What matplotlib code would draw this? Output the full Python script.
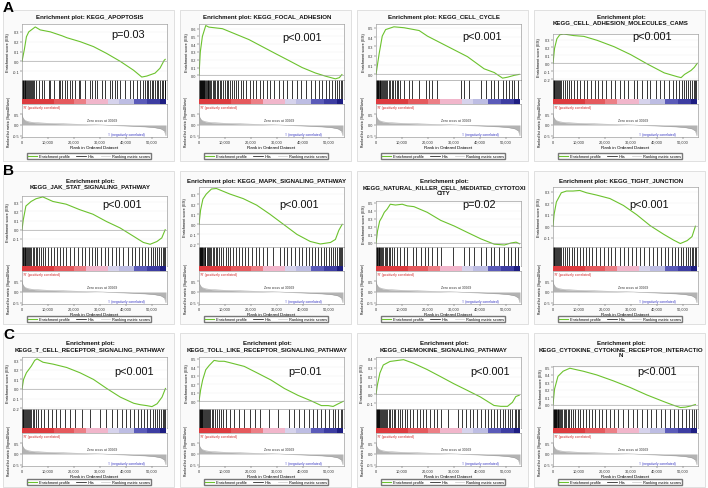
import matplotlib
matplotlib.use('Agg')
import matplotlib.pyplot as plt
from matplotlib.patches import Rectangle
from matplotlib.lines import Line2D

plt.rcParams['font.family'] = ['Liberation Sans', 'DejaVu Sans']

W, H = 708, 489
fig = plt.figure(figsize=(W / 100, H / 100), dpi=100)

# ---------------- data ----------------
titles = [
    "Enrichment plot: KEGG_APOPTOSIS",
    "Enrichment plot: KEGG_FOCAL_ADHESION",
    "Enrichment plot: KEGG_CELL_CYCLE",
    "Enrichment plot:\nKEGG_CELL_ADHESION_MOLECULES_CAMS",
    "Enrichment plot:\nKEGG_JAK_STAT_SIGNALING_PATHWAY",
    "Enrichment plot: KEGG_MAPK_SIGNALING_PATHWAY",
    "Enrichment plot:\nKEGG_NATURAL_KILLER_CELL_MEDIATED_CYTOTOXI\nCITY",
    "Enrichment plot: KEGG_TIGHT_JUNCTION",
    "Enrichment plot:\nKEGG_T_CELL_RECEPTOR_SIGNALING_PATHWAY",
    "Enrichment plot:\nKEGG_TOLL_LIKE_RECEPTOR_SIGNALING_PATHWAY",
    "Enrichment plot:\nKEGG_CHEMOKINE_SIGNALING_PATHWAY",
    "Enrichment plot:\nKEGG_CYTOKINE_CYTOKINE_RECEPTOR_INTERACTIO\nN",
]
pvals = ["p=0.03", "p<0.001", "p<0.001", "p<0.001",
         "p<0.001", "p<0.001", "p=0.02", "p<0.001",
         "p<0.001", "p=0.01", "p<0.001", "p<0.001"]
row_letters = ["A", "B", "C"]

# running enrichment score: ranks (thousands) and ES values
es_rank_k = [
    [0, 0.9, 1.7, 2.6, 5.1, 7.0, 10.9, 15.4, 17.3, 22.4, 27.5, 32.6, 37.8, 42.9, 46.1, 48.0, 51.2, 53.1, 54.7, 55.1],
    [0, 0.5, 1.3, 2.6, 3.8, 9.0, 14.1, 19.2, 24.3, 29.4, 34.6, 39.7, 44.8, 48.6, 52.5, 54.0, 55.0],
    [0, 1.2, 2.4, 3.7, 6.9, 10.8, 16.6, 19.8, 27.5, 35.2, 41.6, 45.5, 48.7, 50.6, 53.2, 55.1],
    [0, 0.6, 1.5, 2.6, 4.1, 8.0, 11.9, 17.0, 23.5, 29.9, 36.4, 42.8, 48.0, 49.3, 50.6, 53.1, 54.4, 55.5],
    [0, 0.5, 1.5, 3.5, 5.4, 8.0, 11.9, 17.0, 22.2, 27.3, 32.5, 37.7, 42.8, 46.7, 49.3, 51.9, 53.8, 55.1],
    [0, 0.6, 1.5, 2.8, 4.8, 6.7, 11.9, 17.0, 22.2, 27.3, 32.5, 37.7, 42.8, 46.7, 50.6, 52.5, 53.8, 55.1],
    [0, 0.6, 1.4, 2.3, 3.2, 4.3, 5.5, 7.5, 10.1, 12.0, 14.6, 19.7, 24.9, 30.1, 35.2, 40.4, 45.5, 49.4, 52.0, 53.9, 55.2],
    [0, 0.4, 1.3, 3.2, 5.2, 7.7, 10.3, 12.9, 16.8, 21.9, 27.1, 32.2, 37.4, 42.6, 46.4, 49.0, 51.6, 53.5, 54.8],
    [0, 0.6, 1.7, 3.6, 4.9, 5.8, 8.1, 12.0, 17.2, 22.3, 27.5, 32.6, 37.8, 43.0, 45.5, 48.1, 50.0, 52.0, 53.9, 55.2],
    [0, 0.6, 1.4, 2.6, 3.9, 5.8, 7.7, 9.7, 12.3, 17.4, 22.6, 27.7, 32.9, 38.1, 43.2, 47.1, 49.7, 51.6, 53.5, 55.5],
    [0, 0.5, 1.5, 2.8, 5.4, 10.6, 14.4, 19.6, 24.8, 29.9, 35.1, 40.2, 45.4, 48.0, 50.6, 52.5, 53.8, 55.1],
    [0, 0.6, 1.9, 3.9, 6.5, 9.0, 11.6, 16.8, 23.2, 29.7, 36.1, 42.6, 46.4, 49.0, 51.0, 52.9, 54.8],
]
es_vals = [
    [0, 0.12, 0.25, 0.30, 0.35, 0.32, 0.30, 0.26, 0.24, 0.20, 0.15, 0.08, 0.0, -0.09, -0.16, -0.15, -0.12, -0.07, 0.01, 0.02],
    [0, 0.30, 0.50, 0.64, 0.62, 0.60, 0.53, 0.46, 0.37, 0.28, 0.19, 0.10, 0.03, -0.01, -0.045, -0.03, 0.01],
    [0, 0.22, 0.41, 0.48, 0.51, 0.50, 0.47, 0.41, 0.30, 0.19, 0.06, 0.02, -0.04, -0.03, -0.01, 0.0],
    [0, 0.19, 0.31, 0.36, 0.37, 0.35, 0.34, 0.29, 0.21, 0.11, -0.01, -0.12, -0.17, -0.18, -0.14, -0.09, -0.05, 0.0],
    [0, 0.11, 0.26, 0.31, 0.34, 0.36, 0.31, 0.28, 0.22, 0.17, 0.09, 0.02, -0.07, -0.14, -0.16, -0.13, -0.09, 0.0],
    [0, 0.14, 0.25, 0.30, 0.35, 0.355, 0.30, 0.255, 0.19, 0.10, 0.0, -0.10, -0.17, -0.195, -0.18, -0.15, -0.06, 0.0],
    [0, 0.15, 0.27, 0.32, 0.38, 0.42, 0.48, 0.47, 0.48, 0.46, 0.45, 0.38, 0.28, 0.21, 0.13, 0.05, -0.015, -0.025, 0.0, 0.01, -0.01],
    [0, 0.10, 0.21, 0.29, 0.305, 0.305, 0.31, 0.29, 0.27, 0.24, 0.18, 0.10, 0.005, -0.07, -0.12, -0.15, -0.125, -0.09, 0.0],
    [0, 0.10, 0.17, 0.24, 0.30, 0.315, 0.28, 0.26, 0.225, 0.17, 0.10, 0.005, -0.085, -0.15, -0.165, -0.175, -0.185, -0.155, -0.085, 0.005],
    [0, 0.13, 0.25, 0.37, 0.42, 0.48, 0.47, 0.47, 0.45, 0.41, 0.33, 0.25, 0.15, 0.07, 0.005, -0.05, -0.05, -0.06, -0.03, 0.0],
    [0, 0.10, 0.24, 0.33, 0.37, 0.39, 0.35, 0.28, 0.20, 0.12, 0.045, -0.03, -0.125, -0.135, -0.135, -0.09, -0.025, -0.01],
    [0, 0.21, 0.38, 0.45, 0.49, 0.47, 0.45, 0.40, 0.32, 0.23, 0.13, 0.04, -0.01, -0.04, -0.035, -0.02, 0.0],
]
es_ylims = [(-0.19, 0.38), (-0.06, 0.66), (-0.06, 0.54), (-0.21, 0.37),
            (-0.19, 0.37), (-0.225, 0.37), (-0.05, 0.52), (-0.18, 0.34),
            (-0.21, 0.335), (-0.09, 0.52), (-0.165, 0.42), (-0.06, 0.52)]
es_yticks = [[-0.1, 0.0, 0.1, 0.2, 0.3],
             [0.0, 0.1, 0.2, 0.3, 0.4, 0.5, 0.6],
             [0.0, 0.1, 0.2, 0.3, 0.4, 0.5],
             [-0.2, -0.1, 0.0, 0.1, 0.2, 0.3],
             [-0.1, 0.0, 0.1, 0.2, 0.3],
             [-0.2, -0.1, 0.0, 0.1, 0.2, 0.3],
             [0.0, 0.1, 0.2, 0.3, 0.4, 0.5],
             [-0.1, 0.0, 0.1, 0.2, 0.3],
             [-0.2, -0.1, 0.0, 0.1, 0.2, 0.3],
             [0.0, 0.1, 0.2, 0.3, 0.4, 0.5],
             [-0.1, 0.0, 0.1, 0.2, 0.3, 0.4],
             [0.0, 0.1, 0.2, 0.3, 0.4, 0.5]]

# hit positions (thousands of ranks)
hits_k = [
    [0.1, 0.3, 0.5, 0.8, 1.0, 1.3, 1.6, 1.9, 2.2, 2.6, 3.0, 3.4, 3.9, 4.3, 4.8, 5.3, 6.4, 7.7, 8.3, 10.2, 10.9, 12.2,
     14.1, 14.7, 15.4, 16.6, 17.3, 18.6, 19.2, 20.5, 21.8, 22.4, 24.3, 26.2, 26.9, 28.2, 28.8, 30.7, 32.0, 33.9, 34.6,
     35.8, 36.5, 37.8, 39.7, 41.6, 42.9, 44.2, 45.4, 46.7, 47.3, 48.0, 48.6, 49.2, 49.9, 50.6, 51.2, 51.8, 52.5, 53.1,
     53.8, 54.4, 54.9, 55.2],
    [0.1, 0.2, 0.4, 0.6, 0.8, 1.0, 1.2, 1.4, 1.6, 1.9, 2.1, 2.4, 2.7, 3.0, 3.3, 3.6, 4.0, 4.4, 4.8, 5.2, 5.7, 6.2, 6.8,
     7.3, 7.9, 8.6, 9.2, 9.9, 10.6, 11.2, 12.0, 12.8, 13.5, 14.3, 15.2, 16.0, 17.0, 18.2, 19.5, 20.6, 22.0, 23.4, 24.6,
     26.0, 27.5, 29.0, 30.6, 32.4, 34.0, 35.8, 37.6, 39.4, 41.2, 43.0, 44.6, 46.0, 47.4, 48.8, 50.0, 51.2, 52.2, 53.0,
     53.8, 54.5, 55.0],
    [0.1, 0.3, 0.5, 0.7, 0.9, 1.1, 1.4, 1.7, 2.0, 2.3, 2.7, 3.1, 3.5, 3.9, 4.4, 4.9, 5.4, 6.0, 6.6, 7.2, 7.9, 8.6, 9.4,
     10.8, 12.7, 14.0, 16.6, 19.1, 20.4, 21.7, 23.6, 32.6, 33.9, 35.8, 40.3, 42.2, 44.2, 45.5, 46.8, 48.7, 50.0, 51.2,
     52.5, 53.2, 54.5],
    [0.1, 0.3, 0.5, 0.8, 1.1, 1.4, 1.8, 2.2, 2.7, 3.2, 3.8, 4.5, 5.2, 6.0, 7.0, 8.2, 9.4, 10.5, 11.8, 13.0, 14.5, 16.0,
     17.2, 18.8, 20.5, 22.3, 24.0, 25.8, 27.5, 29.0, 31.0, 32.5, 34.4, 36.0, 37.5, 39.5, 41.0, 42.8, 44.5, 46.0, 47.5,
     48.6, 49.5, 50.4, 51.2, 52.0, 52.8, 53.5, 54.2, 54.8, 55.2],
    [0.1, 0.3, 0.5, 0.7, 1.0, 1.3, 1.6, 1.9, 2.3, 2.7, 3.1, 3.6, 4.1, 4.6, 5.2, 5.8, 6.5, 7.2, 8.0, 9.0, 10.0, 11.2,
     12.4, 13.5, 14.6, 15.8, 17.0, 18.5, 20.0, 21.4, 23.0, 24.4, 25.8, 26.8, 27.9, 29.0, 30.5, 32.0, 33.2, 34.5, 36.0,
     37.5, 39.0, 40.6, 42.2, 43.6, 45.0, 46.2, 47.4, 48.5, 49.5, 50.4, 51.2, 52.0, 52.8, 53.5, 54.2, 54.8, 55.2],
    [0.1, 0.2, 0.4, 0.6, 0.8, 1.0, 1.3, 1.6, 1.9, 2.2, 2.5, 2.9, 3.3, 3.7, 4.2, 4.7, 5.2, 5.8, 6.4, 7.0, 7.8, 8.6, 9.4,
     10.2, 11.0, 12.0, 13.0, 14.2, 15.4, 16.6, 17.8, 19.0, 20.4, 21.8, 23.2, 24.6, 26.0, 28.4, 31.0, 32.6, 34.0, 35.5,
     37.0, 38.4, 39.8, 41.0, 42.2, 43.4, 44.6, 45.8, 47.0, 48.0, 49.0, 49.9, 50.8, 51.6, 52.4, 53.1, 53.7, 54.3, 54.8,
     55.2],
    [0.1, 0.3, 0.5, 0.7, 1.0, 1.3, 1.6, 2.0, 2.4, 2.8, 3.3, 3.8, 4.3, 4.9, 5.5, 6.2, 7.0, 8.0, 9.4, 10.7, 12.0, 14.2,
     15.5, 17.5, 18.8, 20.1, 21.4, 23.5, 25.0, 29.5, 33.8, 35.8, 37.7, 40.3, 42.2, 44.2, 45.5, 47.5, 49.4, 50.7, 52.0,
     53.3, 54.6],
    [0.1, 0.3, 0.5, 0.8, 1.1, 1.4, 1.8, 2.2, 2.7, 3.2, 3.8, 4.5, 5.3, 6.2, 7.2, 8.2, 9.3, 10.5, 11.6, 12.8, 14.0, 15.2,
     16.6, 18.0, 19.5, 21.0, 22.5, 24.0, 25.6, 27.2, 28.8, 30.4, 32.0, 33.6, 35.2, 36.8, 38.4, 40.0, 41.5, 43.0, 44.4,
     45.8, 47.0, 48.2, 49.2, 50.2, 51.0, 51.8, 52.6, 53.3, 54.0, 54.6, 55.1],
    [0.1, 0.3, 0.5, 0.8, 1.1, 1.4, 1.8, 2.2, 2.6, 3.1, 3.6, 4.2, 4.8, 5.5, 6.3, 7.2, 8.5, 10.0, 11.5, 13.0, 14.8, 16.5,
     18.5, 20.5, 23.0, 26.0, 30.0, 32.5, 34.5, 36.5, 38.5, 40.0, 41.5, 43.0, 44.5, 45.8, 47.0, 48.2, 49.3, 50.3, 51.2,
     52.0, 52.8, 53.5, 54.2, 54.8, 55.2],
    [0.1, 0.2, 0.4, 0.6, 0.8, 1.0, 1.3, 1.6, 1.9, 2.2, 2.6, 3.0, 3.4, 3.9, 4.4, 4.9, 5.5, 6.1, 6.8, 7.6, 8.4, 9.3, 10.5,
     12.0, 13.5, 15.5, 17.5, 19.5, 21.5, 23.5, 27.0, 30.5, 34.5, 36.5, 38.5, 40.5, 42.5, 44.0, 45.5, 47.0, 48.5, 50.0,
     51.5, 52.5, 53.5, 54.5, 55.1],
    [0.1, 0.2, 0.4, 0.6, 0.8, 1.0, 1.3, 1.6, 1.9, 2.2, 2.6, 3.0, 3.4, 3.9, 4.4, 4.9, 5.5, 6.1, 6.8, 7.5, 8.3, 9.1, 10.0,
     11.0, 12.0, 13.2, 14.4, 15.6, 16.8, 18.0, 19.4, 20.8, 22.2, 23.6, 25.0, 27.8, 31.5, 33.0, 34.5, 36.0, 37.5, 39.0,
     40.4, 41.8, 43.0, 44.2, 45.4, 46.6, 47.8, 48.8, 49.8, 50.8, 51.7, 52.5, 53.3, 54.0, 54.6, 55.1],
    [0.1, 0.2, 0.4, 0.6, 0.8, 1.0, 1.2, 1.5, 1.8, 2.1, 2.4, 2.8, 3.2, 3.6, 4.1, 4.6, 5.1, 5.7, 6.3, 7.0, 7.8, 8.6, 9.5,
     10.5, 11.5, 12.6, 13.8, 15.0, 16.3, 17.6, 19.0, 20.5, 22.0, 23.6, 25.2, 27.0, 28.8, 30.6, 32.4, 34.2, 36.0, 37.8,
     39.6, 41.4, 43.2, 45.0, 46.6, 48.2, 49.6, 51.0, 52.2, 53.3, 54.3, 55.1],
]

# ranked list metric (shared by all panels)
metric_rank_k = [0, 0.3, 1.0, 2.5, 5.0, 10.0, 20.0, 30.969, 40.0, 47.0, 51.0, 53.5, 54.8, 55.4]
metric_vals = [0.55, 0.35, 0.22, 0.15, 0.11, 0.08, 0.04, 0.0, -0.04, -0.08, -0.12, -0.18, -0.28, -0.5]
zero_cross = 30969
metric_yticks = [-0.5, 0.0, 0.5]
xtick_vals = [0, 10000, 20000, 30000, 40000, 50000]
xtick_labels = ["0", "10,000", "20,000", "30,000", "40,000", "50,000"]

# ---------------- layout / style ----------------
col_x = [0, 177, 354, 531]
es_top = [25, 25, 25, 35, 197, 188, 202, 188, 358, 358, 358, 367]
title_y = [18, 18, 18, 18, 182, 183, 183, 183, 345, 345, 345, 345]
metric_bottom = [138, 305, 467]
legend_y = [157, 320, 483]
frame_y = [(11, 162), (172, 325), (334, 488)]
letter_y = [1, 164, 328]
p_pos = [(0.73, 0.82), (0.71, 0.76), (0.73, 0.78), (0.68, 0.95),
         (0.69, 0.84), (0.69, 0.72), (0.71, 0.93), (0.66, 0.72),
         (0.77, 0.73), (0.73, 0.73), (0.79, 0.73), (0.72, 0.88)]
XMAX = 55800
GREEN = '#6cc22e'
cbar_blocks = [(0.00, 0.22, '#dd3b3f'), (0.22, 0.36, '#e55a5e'), (0.36, 0.44, '#ec7f86'),
               (0.44, 0.59, '#f1b6cb'), (0.59, 0.67, '#d6d3ec'), (0.67, 0.77, '#bdbde3'),
               (0.77, 0.86, '#5b5bb9'), (0.86, 0.95, '#3d3da2'), (0.95, 0.993, '#1e1e82')]
TICK_FS = 2.8
SPINE = '#8a8a8a'


def add_ax(x0, y0, x1, y1):
    return fig.add_axes([x0 / W, 1 - y1 / H, (x1 - x0) / W, (y1 - y0) / H])


def style(ax):
    for s in ax.spines.values():
        s.set_color(SPINE)
        s.set_linewidth(0.4)
    ax.tick_params(labelsize=TICK_FS, length=1.2, width=0.3, pad=0.8, colors='#333333')


for r in range(3):
    for c in range(4):
        i = r * 4 + c
        cx = col_x[c]
        # panel frame
        fy0, fy1 = frame_y[r]
        fig.patches.append(Rectangle(((cx + 3) / W, 1 - fy1 / H), 171 / W, (fy1 - fy0) / H,
                                     transform=fig.transFigure, facecolor='#fafafa',
                                     edgecolor='#d4d4d4', linewidth=0.5, zorder=-10))
        ax_l, ax_r = cx + 22, cx + 167
        mb = metric_bottom[r]
        m_top = mb - 33
        cb_top = m_top - 5
        h_top = cb_top - 19

        # title
        fig.text((cx + 90) / W, 1 - (title_y[i] - 3.5) / H, titles[i], ha='center', va='top',
                 fontsize=4.4, fontweight='bold', linespacing=1.15, color='#111111')

        # ES axes
        ax = add_ax(ax_l, es_top[i], ax_r, h_top)
        xs = [v * 1000 for v in es_rank_k[i]]
        ax.plot(xs, es_vals[i], color=GREEN, lw=0.8)
        ax.axhline(0, color='#9a9a9a', lw=0.4)
        ax.set_xlim(0, XMAX)
        ax.set_ylim(*es_ylims[i])
        ax.set_yticks(es_yticks[i])
        ax.set_yticklabels([f"{v:.1f}" for v in es_yticks[i]])
        ax.set_xticks([])
        ax.grid(axis='y', color='#ececec', lw=0.3)
        ax.set_axisbelow(True)
        style(ax)
        ax.set_ylabel("Enrichment score (ES)", fontsize=2.8, labelpad=1.5)
        ax.text(p_pos[i][0], p_pos[i][1], pvals[i], transform=ax.transAxes, ha='center',
                va='center', fontsize=7.8, color='#111111')

        # hits axes
        axh = add_ax(ax_l, h_top, ax_r, cb_top)
        axh.vlines([v * 1000 for v in hits_k[i]], 0, 1, color='black', lw=0.55)
        axh.set_xlim(0, XMAX)
        axh.set_ylim(0, 1)
        axh.set_xticks([])
        axh.set_yticks([])
        style(axh)

        # colour bar
        axc = add_ax(ax_l, cb_top, ax_r, m_top)
        for b0, b1, col in cbar_blocks:
            axc.axvspan(b0 * XMAX, b1 * XMAX, color=col, lw=0)
        axc.set_xlim(0, XMAX)
        axc.set_xticks([])
        axc.set_yticks([])
        for s in axc.spines.values():
            s.set_visible(False)

        # ranked metric axes
        axm = add_ax(ax_l, m_top, ax_r, mb)
        mx = [v * 1000 for v in metric_rank_k]
        axm.fill_between(mx, 0, metric_vals, color='#b3b3b3', lw=0)
        axm.plot(mx, metric_vals, color='#9c9c9c', lw=0.3)
        axm.set_xlim(0, XMAX)
        axm.set_ylim(-0.56, 0.98)
        axm.set_yticks(metric_yticks)
        axm.set_yticklabels([f"{v:.1f}" for v in metric_yticks])
        axm.set_xticks(xtick_vals)
        axm.set_xticklabels(xtick_labels)
        style(axm)
        axm.set_ylabel("Ranked list metric (Signal2Noise)", fontsize=2.4, labelpad=1.5)
        axm.set_xlabel("Rank in Ordered Dataset", fontsize=3.2, labelpad=1)
        axm.text(400, 0.84, "'R' (positively correlated)", fontsize=2.4, color='#d02020',
                 ha='left', va='center')
        axm.text(zero_cross, 0.25, f"Zero cross at {zero_cross}", fontsize=2.4,
                 color='#333333', ha='center', va='center')
        axm.text(40300, -0.42, "'I' (negatively correlated)", fontsize=2.4, color='#3030c0',
                 ha='center', va='center')

        # legend
        handles = [Line2D([], [], color=GREEN, lw=0.8),
                   Line2D([], [], color='black', lw=0.5),
                   Line2D([], [], color='#c8c8c8', lw=0.5)]
        fig.legend(handles, ["Enrichment profile", "Hits", "Ranking metric scores"],
                   loc='center', bbox_to_anchor=((cx + 89) / W, 1 - legend_y[r] / H),
                   ncol=3, fontsize=2.8, handlelength=2.4, handletextpad=0.5,
                   columnspacing=1.6, frameon=True, fancybox=False, edgecolor='#777777',
                   borderpad=0.35, framealpha=1)

for r in range(3):
    fig.text(3 / W, 1 - letter_y[r] / H, row_letters[r], fontsize=11, fontweight='bold',
             va='top', ha='left')

fig.savefig('out.png', dpi=100)
